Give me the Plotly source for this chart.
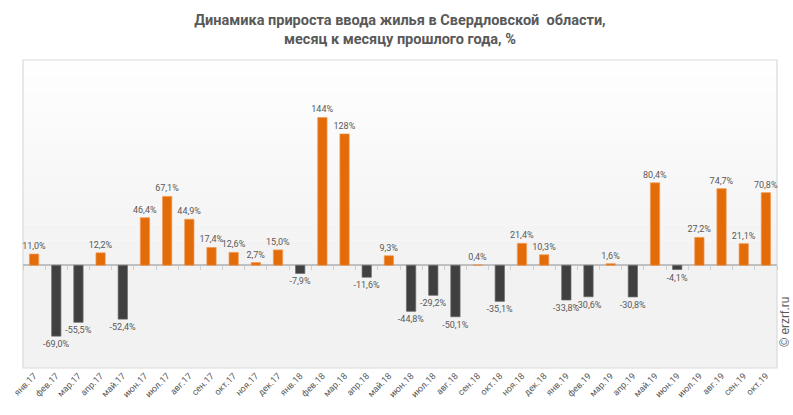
import plotly.graph_objects as go

months = ["янв.17", "фев.17", "мар.17", "апр.17", "май.17", "июн.17", "июл.17", "авг.17",
          "сен.17", "окт.17", "ноя.17", "дек.17", "янв.18", "фев.18", "мар.18", "апр.18",
          "май.18", "июн.18", "июл.18", "авг.18", "сен.18", "окт.18", "ноя.18", "дек.18",
          "янв.19", "фев.19", "мар.19", "апр.19", "май.19", "июн.19", "июл.19", "авг.19",
          "сен.19", "окт.19"]
growth = [11.0, -69.0, -55.5, 12.2, -52.4, 46.4, 67.1, 44.9,
          17.4, 12.6, 2.7, 15.0, -7.9, 144, 128, -11.6,
          9.3, -44.8, -29.2, -50.1, 0.4, -35.1, 21.4, 10.3,
          -33.8, -30.6, 1.6, -30.8, 80.4, -4.1, 27.2, 74.7,
          21.1, 70.8]

ORANGE = "#e36c09"
DARK = "#404040"
GREY_TXT = "#595959"
Y_MIN, Y_MAX = -100, 200


def fmt(v):
    if abs(v) >= 100:
        return f"{v:.0f}%"
    return f"{v:.1f}%".replace(".", ",")


colors = [ORANGE if v >= 0 else DARK for v in growth]
edges = ["#f09a55" if v >= 0 else "#6a6a6a" for v in growth]
labels = [fmt(v) for v in growth]

fig = go.Figure()
fig.add_trace(go.Bar(
    x=months, y=growth, width=0.42,
    marker=dict(color=colors, line=dict(width=0.7, color=edges)),
    text=labels, textposition="outside", constraintext="none",
    textfont=dict(family="Roboto, Arial, sans-serif", size=9, color=GREY_TXT),
    cliponaxis=False, hoverinfo="skip",
))

# background: gradient above zero, flat grey below
shapes = [dict(type="rect", xref="paper", yref="y", x0=0, x1=1, y0=Y_MIN, y1=0,
               fillcolor="#f2f2f2", line=dict(width=0), layer="below")]
n = 25
for i in range(n):
    t = i / n
    c = int(243 + (255 - 243) * t)
    shapes.append(dict(type="rect", xref="paper", yref="y", x0=0, x1=1,
                       y0=Y_MAX * i / n, y1=Y_MAX * (i + 1) / n,
                       fillcolor=f"rgb({c},{c},{c})", line=dict(width=0), layer="below"))
shapes.append(dict(type="rect", xref="paper", yref="paper", x0=0, x1=1, y0=0, y1=1,
                   line=dict(color="#d9d9d9", width=1.2), layer="below"))

fig.update_layout(
    width=793, height=415,
    margin=dict(l=23, r=16, t=60, b=47, autoexpand=False),
    paper_bgcolor="white", plot_bgcolor="rgba(0,0,0,0)",
    showlegend=False,
    shapes=shapes,
    title=dict(
        text="Динамика прироста ввода жилья в Свердловской  области,<br>месяц к месяцу прошлого года, %",
        x=0.5, xanchor="center", xref="paper", y=1 - 25 / 415, yref="container", yanchor="top",
        font=dict(family="Roboto, sans-serif", size=14.5, color=GREY_TXT, weight="bold"),
    ),
    xaxis=dict(
        type="category", categoryarray=months, range=[-0.5, len(months) - 0.5],
        tickangle=-45, showgrid=False, showline=False, ticks="", automargin=False,
        tickfont=dict(family="Roboto, Arial, sans-serif", size=9, color=GREY_TXT),
    ),
    xaxis2=dict(
        overlaying="x", anchor="free", position=(0 - Y_MIN) / (Y_MAX - Y_MIN),
        range=[-0.5, len(months) - 0.5], tickmode="array",
        tickvals=[i - 0.5 for i in range(len(months) + 1)],
        ticks="outside", ticklen=4, tickcolor="#cfcfcf", tickwidth=1,
        showticklabels=False, showgrid=False, showline=False, zeroline=False,
        automargin=False,
    ),
    yaxis=dict(
        range=[Y_MIN, Y_MAX], showgrid=False, showticklabels=False, ticks="",
        zeroline=True, zerolinecolor="#c0c0c0", zerolinewidth=1.5, automargin=False,
    ),
    annotations=[dict(
        text="© erzrf.ru", x=1.0, xref="paper", xshift=8, xanchor="center",
        y=0.15, yref="paper", yanchor="middle", textangle=-90, showarrow=False,
        font=dict(family="Liberation Sans, Arial, sans-serif", size=12, color=GREY_TXT),
    )],
)
# invisible point so the zero-line tick axis is drawn
fig.add_trace(go.Scatter(x=[0], y=[0], xaxis="x2", mode="markers",
                         marker=dict(opacity=0), hoverinfo="skip", showlegend=False))

fig.write_html("out.html", config={"displayModeBar": False},
               post_script="document.body.style.margin='0';")
